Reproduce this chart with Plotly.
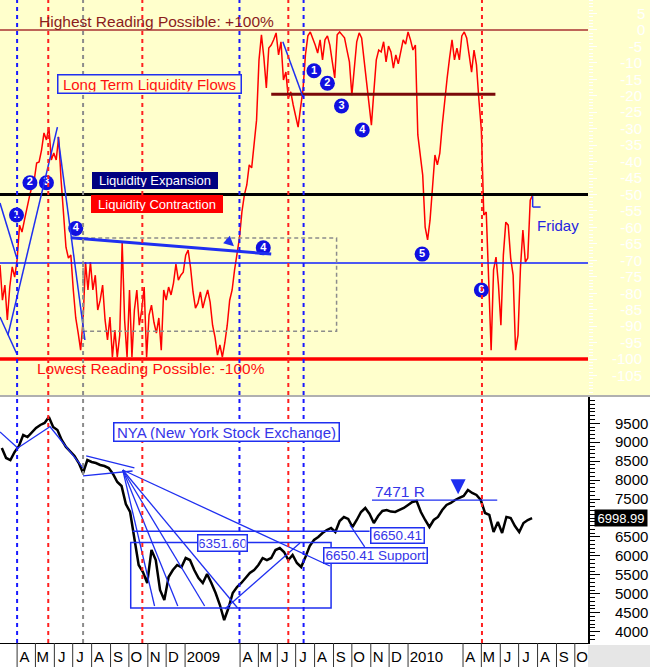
import pandas as pd
import plotly.graph_objects as go
from plotly.subplots import make_subplots

FONT = "Liberation Sans, Arial, sans-serif"
BLUE = "#1f2ff0"
TEXT_BLUE = "#3535e8"
YELLOW = "#ffffcc"

# Long term liquidity flow reading, sampled every 4 days
liq_values = [
    -71.4, -82.1, -77.5, -88.1, -78.1, -72.0, -75.1, -69.9, -59.3, -61.4,
    -57.8, -53.8, -50.8, -47.7, -45.6, -40.4, -40.1, -36.5, -31.3, -33.4,
    -29.5, -39.5, -37.4, -39.5, -32.5, -45.6, -56.2, -66.0, -69.3, -68.4,
    -79.0, -87.5, -92.1, -97.3, -88.1, -70.5, -79.0, -70.5, -79.0, -74.5,
    -85.1, -82.1, -77.5, -88.1, -94.2, -87.2, -99.4, -91.2, -99.4, -92.7,
    -64.4, -88.1, -99.4, -79.0, -99.4, -85.1, -79.0, -89.7, -85.1, -78.1,
    -99.4, -86.6, -83.6, -88.8, -92.1, -87.5, -97.3, -79.0, -82.1, -78.1,
    -80.5, -76.9, -71.1, -76.0, -74.5, -73.6, -68.4, -66.9, -72.3, -79.6,
    -84.5, -83.0, -79.6, -84.5, -81.5, -79.0, -82.7, -89.7, -93.3, -98.8,
    -95.7, -99.4, -95.1, -89.7, -82.1, -79.0, -72.9, -67.8, -63.2, -55.3,
    -50.2, -47.1, -41.0, -41.9, -35.0, -27.4, -9.1, -1.5, -8.5, -17.6,
    -5.5, -4.6, -3.0, -0.9, -7.6, -3.6, -15.2, -12.8, -20.7, -18.8,
    -22.8, -25.8, -29.5, -23.7, -18.2, -7.6, -1.8, -0.6, -2.4, -4.6,
    -7.0, -3.0, -9.1, -3.0, -1.8, -4.6, -9.7, -14.6, -1.5, -0.6,
    -1.5, -2.4, -6.1, -9.7, -19.8, -11.6, -3.6, -0.9, -2.4, -9.1,
    -15.8, -21.3, -28.9, -18.8, -9.1, -6.1, -6.7, -3.6, -9.7, -4.9,
    -6.7, -11.6, -7.6, -10.3, -6.1, -3.0, -4.3, -0.6, -3.0, -6.1,
    -4.6, -31.9, -38.0, -44.1, -59.9, -63.8, -57.8, -49.2, -38.0, -41.0,
    -37.4, -28.9, -20.7, -14.6, -8.5, -3.0, -9.1, -5.5, -9.1, -1.8,
    -0.6, -2.4, -7.6, -12.8, -6.1, -10.6, -21.3, -30.4, -56.2, -55.3,
    -76.0, -97.3, -72.9, -69.0, -77.5, -89.7, -68.4, -58.4, -59.3, -69.3,
    -74.5, -97.3, -92.7, -72.3, -60.8, -70.5, -69.3, -51.7, -50.2,
]
liq_dates = pd.date_range("2008-03-04", periods=len(liq_values), freq="4D")

# NYA weekly closes
nya_values = [
    8848, 8584, 8531, 8743, 8901, 9191, 9138, 9270, 9376, 9455,
    9508, 9666, 9402, 9323, 9059, 8875, 8743, 8637, 8452, 8188,
    8531, 8479, 8452, 8400, 8373, 8320, 8162, 7951, 7845, 7370,
    7159, 6420, 5760, 5575, 5285, 6156, 5892, 5100, 4836, 5443,
    5628, 5760, 5700, 5945, 5892, 5628, 5417, 5285, 5523, 5285,
    5021, 4704, 4308, 4625, 5021, 5180, 5285, 5417, 5549, 5628,
    5760, 5945, 5892, 5945, 6156, 6209, 6103, 5892, 6024, 5813,
    5707, 5971, 6262, 6420, 6499, 6605, 6684, 6737, 6631, 6922,
    7027, 6975, 6763, 6948, 7159, 7265, 7106, 6869, 7054, 7186,
    7212, 7170, 7159, 7212, 7265, 7344, 7423, 7450, 7159, 6948,
    6763, 6948, 7027, 7212, 7344, 7397, 7476, 7529, 7582, 7740,
    7661, 7608, 7476, 7133, 7080, 6631, 6895, 6605, 7027, 7001,
    6790, 6631, 6869, 6948, 6998.99,
]
nya_dates = pd.date_range("2008-03-07", periods=len(nya_values), freq="W-FRI")

# reference levels of the liquidity panel
level_high = 0
level_low = -100
level_expansion = -50
level_base = -70.8
level_top_band = -19.5

# cycle markers running through both panels
cycle_dates = ["2008-04-01", "2008-05-22", "2008-07-18", "2008-10-23",
               "2009-03-31", "2009-06-19", "2009-07-14", "2010-05-02"]
cycle_kinds = ["blue", "red", "gray", "red", "blue", "red", "blue", "red"]

# wave counts
count_labels = ["1", "2", "3", "4", "4", "1", "2", "3", "4", "5", "6"]
count_dates = ["2008-03-31", "2008-04-22", "2008-05-19", "2008-07-06", "2009-05-09",
               "2009-07-31", "2009-08-22", "2009-09-14", "2009-10-18", "2010-01-24",
               "2010-05-01"]
count_values = [-56.2, -46.4, -46.4, -60.3, -66.2, -12.4, -16.2, -23.1, -30.4, -68.1, -79.0]

# hand drawn trendlines (x0, y0, x1, y1, width)
liq_lines = [
    ("2008-03-04", -52.6, "2008-03-31", -69.0, 1.5),
    ("2008-03-04", -87.2, "2008-03-31", -98.2, 1.5),
    ("2008-03-17", -92.7, "2008-06-06", -29.5, 1.5),
    ("2008-06-07", -32.5, "2008-07-21", -94.2, 1.5),
    ("2008-06-28", -63.1, "2009-05-22", -68.1, 3),
    ("2009-06-10", -3.6, "2009-07-13", -20.4, 1.5),
    ("2010-07-24", -50.5, "2010-07-24", -53.8, 1.5),
    ("2010-07-24", -53.8, "2010-08-06", -53.8, 1.5),
]
nya_lines = [
    ("2008-03-04", 9270, "2008-04-02", 8848),
    ("2008-04-02", 8848, "2008-05-24", 9402),
    ("2008-05-24", 9429, "2008-07-18", 8321),
    ("2008-07-18", 8110, "2008-10-07", 8241),
    ("2008-07-23", 8637, "2008-10-10", 8321),
    ("2008-09-21", 8267, "2009-08-26", 5734),
    ("2008-09-21", 8267, "2008-11-12", 4679),
    ("2008-09-21", 8267, "2008-12-20", 4679),
    ("2008-09-21", 8267, "2009-02-02", 4679),
    ("2008-09-21", 8267, "2009-03-28", 4626),
    ("2008-10-07", 6650.41, "2009-10-30", 6650.41),
    ("2009-03-07", 4599, "2009-07-08", 6341),
    ("2009-09-28", 6816, "2009-10-22", 6236),
    ("2009-11-03", 7471, "2010-05-27", 7471),
]

# bottom axis month labels
month_starts = ["2008-04-01", "2008-05-01", "2008-06-01", "2008-07-01", "2008-08-01",
                "2008-09-01", "2008-10-01", "2008-11-01", "2008-12-01", "2009-01-01",
                "2009-04-01", "2009-05-01", "2009-06-01", "2009-07-01", "2009-08-01",
                "2009-09-01", "2009-10-01", "2009-11-01", "2009-12-01", "2010-01-01",
                "2010-04-01", "2010-05-01", "2010-06-01", "2010-07-01", "2010-08-01",
                "2010-09-01", "2010-10-01"]
month_labels = ["A", "M", "J", "J", "A", "S", "O", "N", "D", "2009",
                "A", "M", "J", "J", "A", "S", "O", "N", "D", "2010",
                "A", "M", "J", "J", "A", "S", "O"]
label_pos = [pd.Timestamp(d) + pd.Timedelta(days=30 if len(t) == 4 else 12)
             for d, t in zip(month_starts, month_labels)]

x_range = ["2008-03-04", "2010-10-22 14:00"]
TOP_DOM = [0.3857, 1.0]
BOT_DOM = [0.0, 0.3826]
W_RATIO = 650 / 588

fig = make_subplots(rows=2, cols=1, shared_xaxes=True)

fig.add_trace(go.Scatter(
    x=liq_dates, y=liq_values, mode="lines",
    line=dict(color="#ff0000", width=1.5), showlegend=False,
), row=1, col=1)

fig.add_trace(go.Scatter(
    x=count_dates, y=count_values, mode="markers+text", text=count_labels,
    textposition="middle center",
    textfont=dict(family=FONT, size=11, color="white", weight="bold"),
    marker=dict(size=15, color="#1010e0"), showlegend=False,
), row=1, col=1)

fig.add_trace(go.Scatter(
    x=nya_dates, y=nya_values, mode="lines",
    line=dict(color="black", width=2.5), showlegend=False,
), row=2, col=1)

shapes = []
# panel backgrounds
shapes.append(dict(type="rect", xref="paper", yref="paper", x0=0, x1=W_RATIO,
                   y0=TOP_DOM[0], y1=1, fillcolor=YELLOW, line_width=0, layer="below"))
shapes.append(dict(type="line", xref="paper", yref="paper", x0=0, x1=W_RATIO,
                   y0=0.3842, y1=0.3842, line=dict(color="#b0b0b0", width=2)))
shapes.append(dict(type="rect", xref="paper", yref="paper", x0=1.0, x1=W_RATIO,
                   y0=-24 / 643, y1=-2 / 643, fillcolor="#e6e6e6", line_width=0, layer="below"))

# level lines
shapes.append(dict(type="line", xref="paper", yref="y", x0=0, x1=1, y0=level_high, y1=level_high,
                   line=dict(color="#a83232", width=1.5)))
shapes.append(dict(type="line", xref="x", yref="y", x0="2009-05-22", x1="2010-05-24",
                   y0=level_top_band, y1=level_top_band, line=dict(color="#7a0a0a", width=3)))
shapes.append(dict(type="line", xref="paper", yref="y", x0=0, x1=1, y0=level_expansion,
                   y1=level_expansion, line=dict(color="black", width=3)))
shapes.append(dict(type="line", xref="paper", yref="y", x0=0, x1=1, y0=level_base, y1=level_base,
                   line=dict(color="#1020ff", width=1.5)))
shapes.append(dict(type="line", xref="paper", yref="y", x0=0, x1=1, y0=level_low, y1=level_low,
                   line=dict(color="#ff0000", width=3.5)))
shapes.append(dict(type="rect", xref="x", yref="y", x0="2008-07-18", x1="2009-09-06",
                   y0=-91.5, y1=-63.2, line=dict(color="#8c8c8c", width=1.5, dash="4px,3px")))

for x0, y0, x1, y1, w in liq_lines:
    shapes.append(dict(type="line", xref="x", yref="y", x0=x0, y0=y0, x1=x1, y1=y1,
                       line=dict(color=BLUE, width=w)))
for x0, y0, x1, y1 in nya_lines:
    shapes.append(dict(type="line", xref="x2", yref="y2", x0=x0, y0=y0, x1=x1, y1=y1,
                       line=dict(color=BLUE, width=1.3)))
shapes.append(dict(type="rect", xref="x2", yref="y2", x0="2008-10-04", x1="2009-08-28",
                   y0=4626, y1=6351.6, line=dict(color=BLUE, width=1.5)))

cycle_colors = {"blue": "#1a1aff", "red": "#ff2020", "gray": "#8c8c8c"}
for d, k in zip(cycle_dates, cycle_kinds):
    shapes.append(dict(type="line", xref="x", yref="paper", x0=d, x1=d, y0=0, y1=1,
                       line=dict(color=cycle_colors[k], width=2, dash="4px,4px")))

# month separators on the date strip
for d in month_starts:
    shapes.append(dict(type="line", xref="x2", yref="paper", x0=d, x1=d, y0=-24 / 643, y1=0,
                       line=dict(color="#333333", width=1)))

fig.update_layout(shapes=shapes)


def box(text, x, y, xref, yref, color, bg, border, size, w, h, bw=1.5):
    fig.add_annotation(text=text, x=x, y=y, xref=xref, yref=yref, showarrow=False,
                       font=dict(family=FONT, size=size, color=color),
                       bgcolor=bg, bordercolor=border, borderwidth=bw, borderpad=1,
                       width=w, height=h)


fig.add_annotation(text="Highest Reading Possible: +100%", x="2008-11-16", y=2.7,
                   xref="x", yref="y", showarrow=False,
                   font=dict(family=FONT, size=15.5, color="#8b1c1c"))
fig.add_annotation(text="Lowest Reading Possible: -100%", x="2008-11-06", y=-103.0,
                   xref="x", yref="y", showarrow=False,
                   font=dict(family=FONT, size=15.5, color="#ff1010"))
box("Long Term Liquidity Flows", "2008-11-03", -16.4, "x", "y", "#ff1010", YELLOW, BLUE, 15, 180, 15)
box("Liquidity Expansion", "2008-11-12", -45.6, "x", "y", "white", "#000080", "#000080", 13, 122, 13, 1)
box("Liquidity Contraction", "2008-11-16", -53.0, "x", "y", "white", "#ff0000", "#ff0000", 13, 128, 14, 1)
fig.add_annotation(text="Friday", x="2010-07-27", y=-59.3, xref="x", yref="y", xanchor="left",
                   showarrow=False, font=dict(family=FONT, size=15, color="#2424e0"))
fig.add_annotation(text="", x="2009-03-22", y=-65.7, xref="x", yref="y", showarrow=True,
                   ax=-9, ay=-8, arrowhead=2, arrowsize=1, arrowwidth=2, arrowcolor=BLUE)

box("NYA (New York Stock Exchange)", "2009-03-10", 9257, "x2", "y2", TEXT_BLUE, "white", BLUE, 15, 222, 15)
box("6351.60", "2009-03-03", 6328, "x2", "y2", TEXT_BLUE, "white", BLUE, 13.5, 46, 13)
box("6650.41", "2009-12-14", 6526, "x2", "y2", TEXT_BLUE, "white", BLUE, 13.5, 50, 12)
box("6650.41 Support", "2009-11-08", 6024, "x2", "y2", TEXT_BLUE, "white", BLUE, 13.5, 100, 12)
fig.add_annotation(text="7471 R", x="2009-11-04", y=7471, xref="x2", yref="y2", xanchor="left",
                   yanchor="bottom", showarrow=False, yshift=-2,
                   font=dict(family=FONT, size=15.5, color=TEXT_BLUE))
fig.add_annotation(text="", x="2010-03-24", y=7630, xref="x2", yref="y2", showarrow=True,
                   ax=0, ay=-14, arrowhead=2, arrowsize=1, arrowwidth=3, arrowcolor=BLUE)
fig.add_annotation(text=f"{nya_values[-1]:.2f}", x=1.0102, y=nya_values[-1], xref="paper", yref="y2",
                   xanchor="left", showarrow=False, bgcolor="black",
                   font=dict(family=FONT, size=13, color="white"), width=50, height=14, borderpad=1)

top_ticks = list(range(5, -106, -5))
bot_ticks = list(range(4000, 9501, 500))
# the last-value flag covers the 7000 label
bot_text = ["" if v == 7000 else str(v) for v in bot_ticks]

fig.update_layout(
    width=650, height=667,
    margin=dict(l=0, r=62, t=0, b=24),
    paper_bgcolor="white", plot_bgcolor="white",
    showlegend=False, template="none",
    font=dict(family=FONT, size=15, color="black"),
    xaxis=dict(range=x_range, showticklabels=False, showgrid=False, zeroline=False,
               ticks="", showline=False),
    xaxis2=dict(range=x_range, tickmode="array", tickvals=label_pos, ticktext=month_labels,
                ticks="", showgrid=False, zeroline=False, showline=True, linecolor="black",
                linewidth=1, tickfont=dict(family=FONT, size=15, color="black"), automargin=False),
    yaxis=dict(domain=TOP_DOM, range=[-110.9, 9.1], side="right", tickmode="array",
               tickvals=top_ticks, ticktext=[str(v).rjust(4, "\u2007") for v in top_ticks],
               tickfont=dict(family=FONT, size=15, color="white"), ticks="outside",
               ticklen=8, tickcolor="white", ticklabelstandoff=12,
               minor=dict(dtick=1, ticklen=4, ticks="outside", tickcolor="white"),
               showgrid=False, zeroline=False, showline=False, automargin=False),
    yaxis2=dict(domain=BOT_DOM, range=[3702, 10194], side="right", tickmode="array",
                tickvals=bot_ticks, ticktext=bot_text,
                tickfont=dict(family=FONT, size=15, color="black"),
                ticks="outside", ticklen=10, tickcolor="black", ticklabelstandoff=12,
                minor=dict(dtick=100, ticklen=5, ticks="outside", tickcolor="black"),
                showgrid=False, zeroline=False, showline=True, linecolor="black",
                linewidth=2, automargin=False),
)

fig.write_html("out.html", config={"displayModeBar": False},
               post_script="document.body.style.margin = '0px';")
